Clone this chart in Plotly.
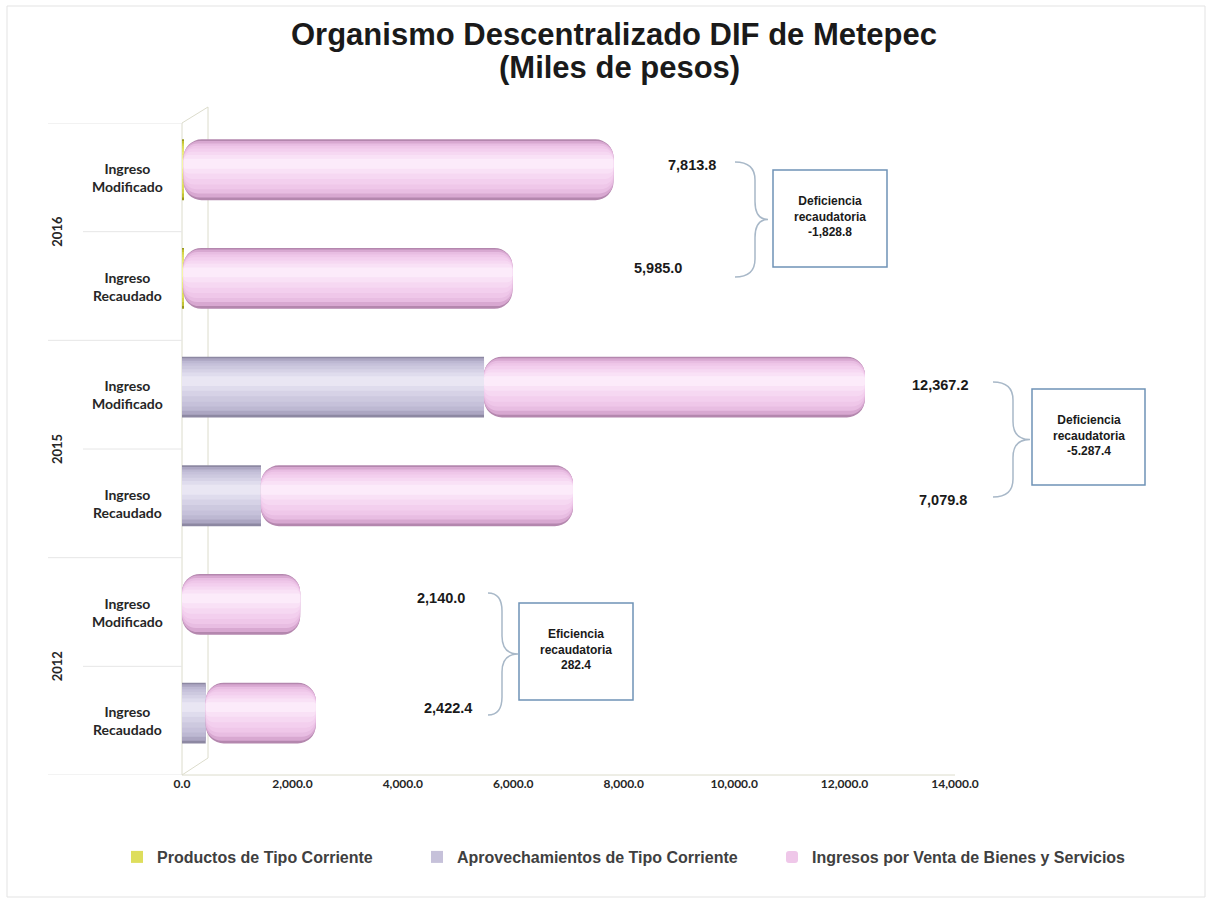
import plotly.graph_objects as go

# Data (miles de pesos)
years = ["2016", "2016", "2015", "2015", "2012", "2012"]
conceptos = ["Ingreso<br>Modificado", "Ingreso<br>Recaudado"] * 3
productos = [30.0, 25.0, 0.0, 0.0, 0.0, 0.0]
aprovechamientos = [0.0, 0.0, 5470.0, 1430.0, 0.0, 430.0]
ingresos_venta = [7783.8, 5960.0, 6897.2, 5649.8, 2140.0, 1992.4]
series_names = [
    "Productos de Tipo Corriente",
    "Aprovechamientos de Tipo Corriente",
    "Ingresos por Venta de Bienes y Servicios",
]
resultados = [
    "Deficiencia<br>recaudatoria<br>-1,828.8",
    "Deficiencia<br>recaudatoria<br>-5.287.4",
    "Eficiencia<br>recaudatoria<br>282.4",
]
x_ticks = [0, 2000, 4000, 6000, 8000, 10000, 12000, 14000]

cats = [f"{y} {c}" for y, c in zip(years, conceptos)]
totals = [p + a + i for p, a, i in zip(productos, aprovechamientos, ingresos_venta)]

# plot area in pixels
PL, PR, PT, PB = 182, 955, 123, 775
W, H = 1211, 905


def px(x):
    return (x - PL) / (PR - PL)


def py(y):
    return 1 - (y - PT) / (PB - PT)


# cylinder shading: colours from the outer edge to the highlight
shades = [
    ["#9a9a20", "#c2c236", "#d4d44a", "#dede5c", "#e4e46c", "#eaea7e", "#f0f090", "#f5f5a6"],
    ["#8d88a2", "#aca6c2", "#bdb8d2", "#c6c1da", "#cdc9df", "#d6d2e6", "#dfdced", "#e9e6f3"],
    ["#b487ae", "#d8a8d1", "#e8bde2", "#efc7e9", "#f3cfee", "#f6d8f2", "#f9e1f6", "#fcebfa"],
]
radii = [0, 0, "30%"]
widths = [0.56, 0.52, 0.46, 0.40, 0.33, 0.25, 0.17, 0.09]
ups = [0.0, 0.005, 0.012, 0.02, 0.03, 0.04, 0.05, 0.055]
shift = 0.07

fig = go.Figure()

series = [productos, aprovechamientos, ingresos_venta]
bases = [
    [0.0] * 6,
    list(productos),
    [p + a for p, a in zip(productos, aprovechamientos)],
]
legend_ids = ["legend", "legend2", "legend3"]

for s, (vals, base, name) in enumerate(zip(series, bases, series_names)):
    for li, (w, up) in enumerate(zip(widths, ups)):
        fig.add_trace(go.Bar(
            y=cats,
            x=vals,
            base=base,
            orientation="h",
            width=w,
            offset=-w / 2 - up - shift,
            name=name,
            legend=legend_ids[s],
            legendgroup=name,
            showlegend=(li == 3),
            marker={"color": shades[s][li], "line": {"width": 0}, "cornerradius": radii[s]},
            hoverinfo="skip",
        ))

annotations = []

# title
title_font = {"family": "Liberation Sans", "size": 31, "color": "#1a1a1a", "weight": "bold"}
annotations.append(dict(
    x=px(614), y=py(35), xref="paper", yref="paper", xanchor="center", yanchor="middle",
    text="Organismo Descentralizado DIF de Metepec", showarrow=False, font=title_font,
))
annotations.append(dict(
    x=px(619), y=py(67), xref="paper", yref="paper", xanchor="center", yanchor="middle",
    text="(Miles de pesos)", showarrow=False, font=title_font,
))

# category labels
for i, c in enumerate(conceptos):
    annotations.append(dict(
        x=px(127), xref="paper", y=cats[i], yref="y", xanchor="center", yanchor="middle",
        text=c, showarrow=False, align="center",
        font={"family": "Lato", "size": 14, "color": "#262626", "weight": "bold"},
    ))
for g in range(3):
    annotations.append(dict(
        x=px(57), xref="paper", y=2 * g + 0.5, yref="y", xanchor="center", yanchor="middle",
        text=years[2 * g], showarrow=False, textangle=-90,
        font={"family": "Lato", "size": 13, "color": "#262626", "weight": "bold"},
    ))

# total value labels
label_pos = [(692, 165), (658, 268), (940, 385), (943, 500), (441, 598), (448, 708)]
for (lx, ly), tot in zip(label_pos, totals):
    annotations.append(dict(
        x=px(lx), y=py(ly), xref="paper", yref="paper", xanchor="center", yanchor="middle",
        text=f"{tot:,.1f}", showarrow=False,
        font={"family": "Liberation Sans", "size": 14.5, "color": "#1a1a1a", "weight": "bold"},
    ))

# result boxes
boxes = [(773, 170, 887, 267), (1032, 389, 1145, 485), (519, 603, 633, 700)]
shapes = []
for (x0, y0, x1, y1), txt in zip(boxes, resultados):
    shapes.append(dict(
        type="rect", xref="paper", yref="paper",
        x0=px(x0), x1=px(x1), y0=py(y1), y1=py(y0),
        line={"color": "#6f93b6", "width": 1.5}, fillcolor="white",
    ))
    annotations.append(dict(
        x=px((x0 + x1) / 2), y=py((y0 + y1) / 2 - 2), xref="paper", yref="paper",
        xanchor="center", yanchor="middle",
        text=txt, showarrow=False, align="center",
        font={"family": "Liberation Sans", "size": 12, "color": "#1a1a1a", "weight": "bold"},
    ))

# curly braces
braces = [(735, 755, 768, 162, 277), (993, 1013, 1030, 382, 497), (488, 502, 518, 593, 715)]
for x0, xm, x1, yt, yb in braces:
    ym = (yt + yb) / 2
    d = 18
    pts = [
        ("M", [(x0, yt)]),
        ("Q", [(xm, yt), (xm, yt + d)]),
        ("L", [(xm, ym - d)]),
        ("Q", [(xm, ym), (x1, ym)]),
        ("Q", [(xm, ym), (xm, ym + d)]),
        ("L", [(xm, yb - d)]),
        ("Q", [(xm, yb), (x0, yb)]),
    ]
    path = " ".join(
        cmd + " " + " ".join(f"{px(a):.5f},{py(b):.5f}" for a, b in p) for cmd, p in pts
    )
    shapes.append(dict(
        type="path", xref="paper", yref="paper", path=path,
        line={"color": "#a8b8c8", "width": 1.5},
    ))

# 3D wall / floor outlines
wall = "#dcdccc"
for (xa, ya, xb, yb) in [(182, 123, 182, 775), (208, 107, 208, 758), (182, 123, 208, 107),
                         (182, 775, 208, 758), (182, 775, 955, 775)]:
    shapes.append(dict(type="line", xref="paper", yref="paper",
                       x0=px(xa), y0=py(ya), x1=px(xb), y1=py(yb),
                       line={"color": wall, "width": 1}, layer="below"))

# category separators
for yv in [-0.5, 1.5, 3.5, 5.5]:
    shapes.append(dict(type="line", xref="paper", yref="y", x0=px(48), x1=px(182),
                       y0=yv, y1=yv, line={"color": "#e6e6e6", "width": 1}, layer="below"))
for yv in [0.5, 2.5, 4.5]:
    shapes.append(dict(type="line", xref="paper", yref="y", x0=px(83), x1=px(182),
                       y0=yv, y1=yv, line={"color": "#e6e6e6", "width": 1}, layer="below"))

# outer chart border
shapes.append(dict(type="rect", xref="paper", yref="paper",
                   x0=px(7), x1=px(1205), y0=py(897), y1=py(6),
                   line={"color": "#e3e3e3", "width": 1}, layer="below"))

legend_font = {"family": "Liberation Sans", "size": 16, "color": "#404040", "weight": "bold"}
legend_x = [117, 417, 772]
legends = {}
for lid, lx in zip(legend_ids, legend_x):
    legends[lid] = {
        "orientation": "h", "x": px(lx), "xanchor": "left",
        "y": py(857), "yanchor": "middle", "itemwidth": 30,
        "font": legend_font, "bgcolor": "rgba(0,0,0,0)",
    }

fig.update_layout(
    width=W, height=H,
    barmode="overlay",
    template="plotly_white",
    paper_bgcolor="white",
    plot_bgcolor="rgba(0,0,0,0)",
    xaxis={
        "range": [0, 14000], "tickvals": x_ticks, "tickformat": ",.1f",
        "showgrid": False, "zeroline": False, "showline": False, "ticks": "",
        "tickfont": {"family": "Lato", "size": 12, "color": "#262626", "weight": "bold"},
        "fixedrange": True,
    },
    yaxis={
        "type": "category", "categoryorder": "array", "categoryarray": cats,
        "range": [5.5, -0.5], "showticklabels": False, "showgrid": False,
        "zeroline": False, "showline": False, "fixedrange": True,
    },
    margin={"l": PL, "r": W - PR, "t": PT, "b": H - PB},
    annotations=annotations,
    shapes=shapes,
    **legends,
)

fig.write_html(
    "out.html",
    config={"displayModeBar": False},
    post_script="document.body.style.margin = '0px';",
)
